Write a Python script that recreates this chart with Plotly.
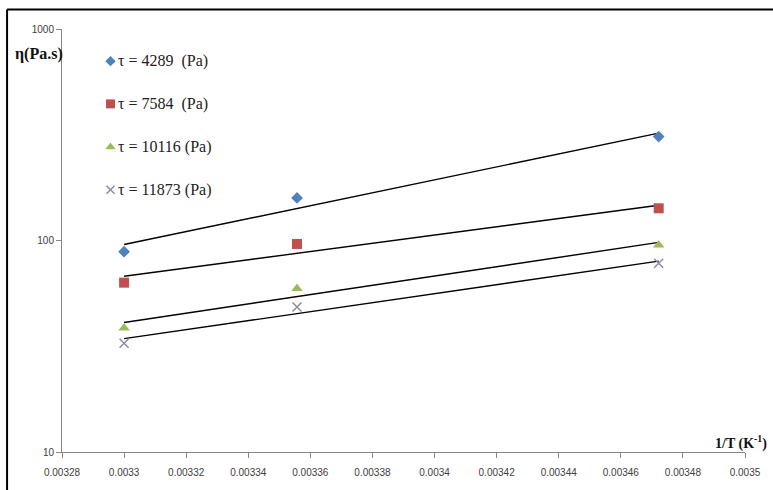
import numpy as np
import plotly.graph_objects as go

# Reciprocal temperature (1/K) at 303 K, 298 K and 288 K
inv_T = [0.0033, 0.0033557, 0.0034722]

# Apparent viscosity (Pa.s) at each shear stress
eta_4289 = [88.5, 159.0, 310.0]
eta_7584 = [63.2, 96.3, 142.0]
eta_10116 = [38.6, 59.3, 95.2]
eta_11873 = [32.7, 48.5, 78.0]

series_labels = ["τ = 4289  (Pa)", "τ = 7584  (Pa)", "τ = 10116 (Pa)", "τ = 11873 (Pa)"]
series_values = [eta_4289, eta_7584, eta_10116, eta_11873]
series_colors = ["#4F81BD", "#C0504D", "#9BBB59", "#9089A8"]
series_symbols = ["diamond", "square", "triangle-up", "x-thin-open"]
series_sizes = [9, 10, 10, 9]

x_tick_vals = [0.00328, 0.0033, 0.00332, 0.00334, 0.00336, 0.00338,
               0.0034, 0.00342, 0.00344, 0.00346, 0.00348, 0.0035]
x_tick_text = ["0.00328", "0.0033", "0.00332", "0.00334", "0.00336", "0.00338",
               "0.0034", "0.00342", "0.00344", "0.00346", "0.00348", "0.0035"]
y_tick_vals = [10, 100, 1000]

fig = go.Figure()

x = np.array(inv_T)
for vals, col, sym, size in zip(series_values, series_colors, series_symbols, series_sizes):
    # Exponential trendline: least-squares fit of ln(eta) against 1/T
    slope, icpt = np.polyfit(x, np.log(vals), 1)
    xe = np.array([x.min(), x.max()])
    fig.add_trace(go.Scatter(
        x=xe, y=np.exp(icpt + slope * xe), mode="lines",
        line=dict(color="#000000", width=1.4), showlegend=False, hoverinfo="skip"))
    marker = dict(color=col, size=size, symbol=sym)
    if sym.startswith("x-thin"):
        marker["line"] = dict(color=col, width=1.5)
    fig.add_trace(go.Scatter(x=inv_T, y=vals, mode="markers", marker=marker,
                             showlegend=False))

# Key placed inside the plot area (overlay axes spanning 0..1)
key_x = 0.071
key_y = [0.924, 0.823, 0.721, 0.620]
for ky, lab, col, sym, size in zip(key_y, series_labels, series_colors, series_symbols, series_sizes):
    marker = dict(color=col, size=size - 1, symbol=sym)
    if sym.startswith("x-thin"):
        marker["line"] = dict(color=col, width=1.5)
    fig.add_trace(go.Scatter(x=[key_x], y=[ky], xaxis="x2", yaxis="y2", mode="markers",
                             marker=marker, showlegend=False, hoverinfo="skip"))
    fig.add_annotation(x=0.0797, y=ky, xref="paper", yref="paper", text=lab,
                       showarrow=False, xanchor="left", yanchor="middle",
                       font=dict(family="Liberation Serif", size=16, color="#222222"))

fig.add_annotation(x=(12 - 62) / 690, y=(452 - 54) / 423, xref="paper", yref="paper",
                   text="<b>η(Pa.s)</b>", showarrow=False, xanchor="left", yanchor="middle",
                   font=dict(family="Liberation Serif", size=16, color="#111111"))
fig.add_annotation(x=(720 - 62) / 690, y=(452 - 442) / 423, xref="paper", yref="paper",
                   text="<b>1/T (K<sup>-1</sup>)</b>", showarrow=False, xanchor="left",
                   yanchor="middle",
                   font=dict(family="Liberation Serif", size=14, color="#111111"))

# Outer frame (top and left edges)
fig.add_shape(type="line", xref="paper", yref="paper",
              x0=(6.5 - 62) / 690, x1=1.2, y0=(452 - 9.5) / 423, y1=(452 - 9.5) / 423,
              line=dict(color="#000000", width=2))
fig.add_shape(type="line", xref="paper", yref="paper",
              x0=(6.5 - 62) / 690, x1=(6.5 - 62) / 690, y0=-0.2, y1=(452 - 9.5) / 423,
              line=dict(color="#000000", width=2))

tick_font = dict(family="Liberation Sans", size=10, color="#404040")
fig.update_layout(
    width=773, height=490,
    margin=dict(l=62, r=21, t=29, b=38),
    paper_bgcolor="white", plot_bgcolor="white",
    showlegend=False,
    xaxis=dict(range=[0.00328, 0.0035], tickvals=x_tick_vals, ticktext=x_tick_text,
               showgrid=False, zeroline=False, showline=True, linecolor="#868686",
               linewidth=1, ticks="outside", ticklen=5, tickcolor="#868686",
               tickfont=tick_font, ticklabelstandoff=6),
    yaxis=dict(type="log", range=[1, 3], tickvals=y_tick_vals,
               ticktext=[str(v) for v in y_tick_vals],
               showgrid=False, zeroline=False, showline=True, linecolor="#868686",
               linewidth=1, ticks="outside", ticklen=5, tickcolor="#868686",
               tickfont=tick_font),
    xaxis2=dict(overlaying="x", range=[0, 1], visible=False),
    yaxis2=dict(overlaying="y", range=[0, 1], visible=False),
)

fig.write_html("out.html")
